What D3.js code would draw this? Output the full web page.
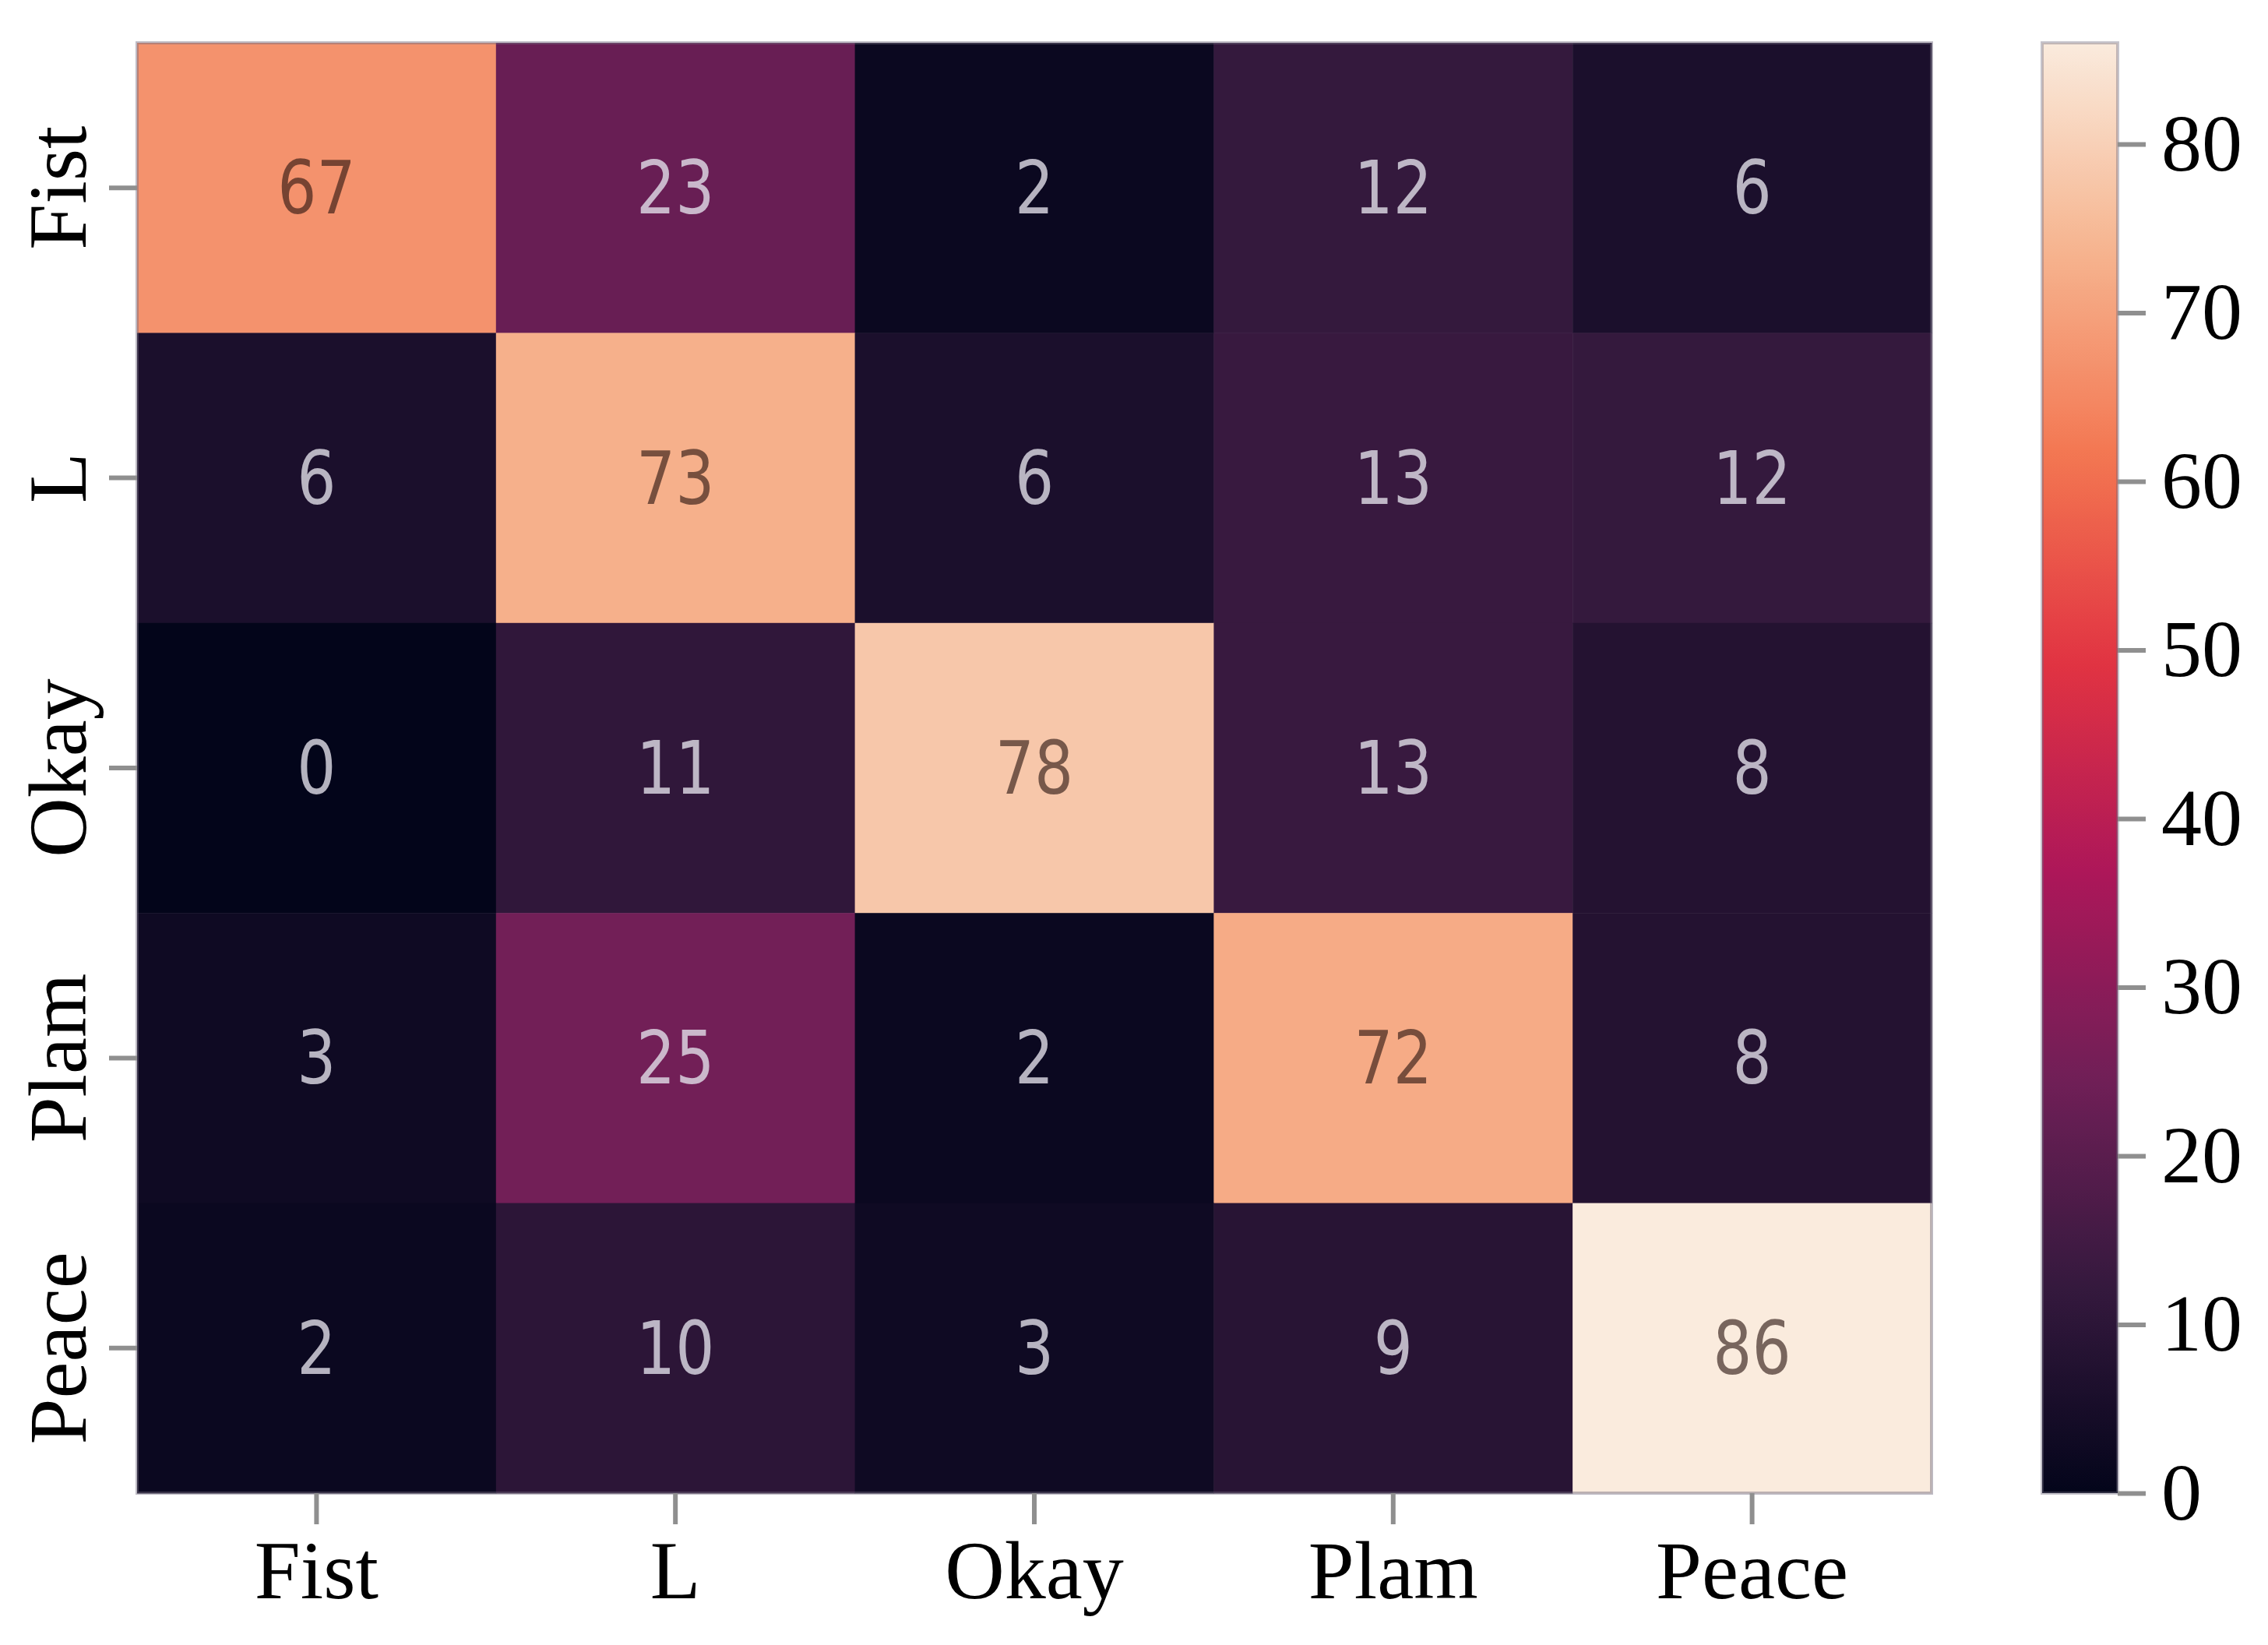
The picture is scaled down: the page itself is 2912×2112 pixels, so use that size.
<!DOCTYPE html>
<html>
<head>
<meta charset="utf-8">
<script src="https://cdn.jsdelivr.net/npm/d3@7"></script>
<style>
  html, body { margin: 0; padding: 0; background: #fff; }
</style>
</head>
<body>
<div id="chart"></div>
<script>
// confusion matrix data
const rowLabels = ["Fist", "L", "Okay", "Plam", "Peace"]
const colLabels = ["Fist", "L", "Okay", "Plam", "Peace"]
const rowFist  = [67, 23, 2, 12, 6]
const rowL     = [6, 73, 6, 13, 12]
const rowOkay  = [0, 11, 78, 13, 8]
const rowPlam  = [3, 25, 2, 72, 8]
const rowPeace = [2, 10, 3, 9, 86]
const colorbarTicks = [0, 10, 20, 30, 40, 50, 60, 70, 80]
const vmin = 0, vmax = 86

const matrix = [rowFist, rowL, rowOkay, rowPlam, rowPeace]

// seaborn "rocket" colormap, sampled
const rocketPos = [0, 1/7, 2/7, 3/7, 4/7, 5/7, 6/7, 1]
const rocketCol = ["#03051a", "#35193e", "#701f57", "#ad1759", "#e13342", "#f37651", "#f6b48f", "#faebdd"]

const W = 2912, H = 2112
const mLeft = 176, mRight = 2480, mTop = 55, mBottom = 1917
const cbLeft = 2622, cbRight = 2719

let svg = d3.select("#chart").append("svg")
    .attr("width", W)
    .attr("height", H)

let x = d3.scaleBand().domain(colLabels).range([mLeft, mRight])
let y = d3.scaleBand().domain(rowLabels).range([mTop, mBottom])
let color = d3.scaleLinear()
    .domain(rocketPos.map(p => vmin + p * (vmax - vmin)))
    .range(rocketCol)
    .interpolate(d3.interpolateRgb)

let cells = []
matrix.forEach((row, i) => {
    row.forEach((v, j) => {
        cells.push({r: rowLabels[i], c: colLabels[j], v: v})
    })
})

let g = svg.append("g")
g.selectAll("rect.cell")
    .data(cells)
    .enter().append("rect")
    .attr("class", "cell")
    .attr("x", d => x(d.c))
    .attr("y", d => y(d.r))
    .attr("width", x.bandwidth() + 0.5)
    .attr("height", y.bandwidth() + 0.5)
    .style("fill", d => color(d.v))

// faint outline, like the blurred edge of the original
g.append("rect")
    .attr("x", mLeft).attr("y", mTop)
    .attr("width", mRight - mLeft).attr("height", mBottom - mTop)
    .style("fill", "none")
    .style("stroke", "rgba(110,105,125,0.45)")
    .style("stroke-width", 4)

function lum(c){
    let rgb = d3.rgb(c)
    let f = v => { v = v / 255; return v <= 0.03928 ? v / 12.92 : Math.pow((v + 0.055) / 1.055, 2.4) }
    return 0.2126 * f(rgb.r) + 0.7152 * f(rgb.g) + 0.0722 * f(rgb.b)
}

g.selectAll("text.annot")
    .data(cells)
    .enter().append("text")
    .attr("class", "annot")
    .attr("transform", d => "translate(" + (x(d.c) + x.bandwidth() / 2) + "," + (y(d.r) + y.bandwidth() / 2) + ") scale(0.84,1)")
    .attr("text-anchor", "middle")
    .attr("dominant-baseline", "central")
    .style("font-family", "DejaVu Sans")
    .style("font-size", "94px")
    .style("fill", d => lum(color(d.v)) > 0.408 ? "rgba(40,20,15,0.62)" : "rgba(225,222,232,0.8)")
    .text(d => d.v)

// axes
let xAxis = svg.append("g")
    .attr("transform", "translate(0," + mBottom + ")")
    .call(d3.axisBottom(x).tickSize(40).tickPadding(0))
xAxis.select(".domain").remove()
xAxis.selectAll(".tick line").style("stroke", "#8f8f8f").style("stroke-width", 6)
xAxis.selectAll(".tick text")
    .attr("y", 135)
    .attr("dy", 0)
    .style("font-family", "Liberation Serif")
    .style("font-size", "106px")
    .style("fill", "#000")

let yAxis = svg.append("g")
    .attr("transform", "translate(" + mLeft + ",0)")
    .call(d3.axisLeft(y).tickSize(36).tickPadding(0))
yAxis.select(".domain").remove()
yAxis.selectAll(".tick line").style("stroke", "#8f8f8f").style("stroke-width", 6)
yAxis.selectAll(".tick text")
    .attr("x", 0).attr("dy", 0)
    .attr("text-anchor", "middle")
    .attr("transform", "translate(-66,0) rotate(-90)")
    .style("font-family", "Liberation Serif")
    .style("font-size", "106px")
    .style("fill", "#000")

// colorbar
let cbScale = d3.scaleLinear().domain([vmin, vmax]).range([mBottom, mTop])
let defs = svg.append("defs")
let grad = defs.append("linearGradient")
    .attr("id", "cbgrad")
    .attr("x1", 0).attr("y1", 1).attr("x2", 0).attr("y2", 0)
d3.range(0, 101).forEach(i => {
    let v = vmin + (vmax - vmin) * i / 100
    grad.append("stop")
        .attr("offset", (i) + "%")
        .attr("stop-color", color(v))
})
svg.append("rect")
    .attr("x", cbLeft).attr("y", mTop)
    .attr("width", cbRight - cbLeft).attr("height", mBottom - mTop)
    .style("fill", "url(#cbgrad)")
    .style("stroke", "rgba(110,105,125,0.4)")
    .style("stroke-width", 4)

let cbAxis = svg.append("g")
    .attr("transform", "translate(" + cbRight + ",0)")
    .call(d3.axisRight(cbScale).tickValues(colorbarTicks).tickSize(36).tickPadding(20))
cbAxis.select(".domain").remove()
cbAxis.selectAll(".tick line").style("stroke", "#8f8f8f").style("stroke-width", 6)
cbAxis.selectAll(".tick text")
    .style("font-family", "Liberation Serif")
    .style("font-size", "104px")
    .style("fill", "#000")
</script>
</body>
</html>
